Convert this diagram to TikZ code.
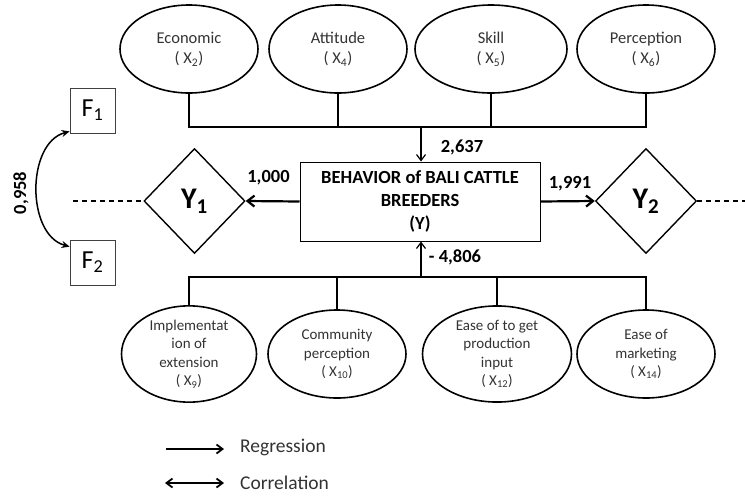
\documentclass[tikz,border=0pt]{standalone}
\usepackage{fontspec}
\setmainfont{Carlito}
\usetikzlibrary{arrows.meta, positioning, shapes.geometric}

\begin{document}
\begin{tikzpicture}[x=1pt, y=-1pt,
          factor/.style={ellipse, draw, line width=1.6pt, minimum width=138pt,
                         minimum height=88pt, inner sep=0pt, align=center,
                         text=black!80, font=\fontsize{16.5}{20.5}\selectfont},
          factorlow/.style={factor, font=\fontsize{15}{18.5}\selectfont},
          core/.style={rectangle, draw, line width=1pt, minimum width=240pt,
                       minimum height=79pt, align=center,
                       font=\fontsize{18.5}{23}\selectfont\bfseries},
          outcome/.style={diamond, draw, line width=1.4pt, minimum width=101pt,
                          minimum height=105pt, inner sep=0pt,
                          font=\fontsize{30}{30}\selectfont\bfseries},
          fbox/.style={rectangle, draw=black!75, line width=0.8pt, minimum size=45pt,
                       inner sep=0pt, font=\fontsize{26}{26}\selectfont},
          num/.style={inner sep=0pt, font=\fontsize{18.5}{22}\selectfont\bfseries},
          legtxt/.style={anchor=west, inner sep=0pt, text=black!80,
                         font=\fontsize{19.5}{22}\selectfont},
          link/.style={line width=1.2pt},
          arr/.style={-{Straight Barb[length=6pt, width=9pt]}, line width=1.2pt},
          thickarr/.style={-{Straight Barb[length=7pt, width=11pt]}, line width=2.2pt},
          twoarr/.style={{Straight Barb[length=6pt, width=9pt]}-{Straight Barb[length=6pt, width=9pt]},
                         line width=1.8pt},
          corr/.style={{Stealth[length=8pt, width=7pt]}-{Stealth[length=8pt, width=7pt]},
                       line width=1.5pt}]
          \useasboundingbox (0,0) rectangle (745,496);
          % upper factors
          \node[factor] (eco) at (189,49)  {Economic\\( X\textsubscript{2})};
          \node[factor] (att) at (338,49)  {Attitude\\( X\textsubscript{4})};
          \node[factor, minimum width=152pt] (ski) at (491,49) {Skill\\( X\textsubscript{5})};
          \node[factor] (per) at (646,49)  {Perception\\( X\textsubscript{6})};
          % lower factors
          \node[factorlow, minimum width=135pt] (ext) at (189,354) {Implementat\\ion of\\extension\\( X\textsubscript{9})};
          \node[factorlow] (com) at (337,354) {Community\\perception\\( X\textsubscript{10})};
          \node[factorlow, minimum width=149pt] (inp) at (497,354) {Ease of to get\\production\\input\\( X\textsubscript{12})};
          \node[factorlow] (mkt) at (646,354) {Ease of\\marketing\\( X\textsubscript{14})};
          % behaviour and outcomes
          \node[core] (beh) at (420,201.5) {BEHAVIOR of BALI CATTLE\\BREEDERS\\(Y)};
          \node[outcome] (y1) at (194.5,201) {Y\textsubscript{1}};
          \node[outcome] (y2) at (646,201)   {Y\textsubscript{2}};
          \node[fbox] (f1) at (92.5,110.5) {F\textsubscript{1}};
          \node[fbox] (f2) at (92.5,262.5) {F\textsubscript{2}};
          \coordinate (tj) at (421,127);
          \coordinate (bj) at (421,277);
          \coordinate (dl) at (73,201);
          \coordinate (dr) at (745,201);
          % upper tree
          \draw[link] (eco.south) -- (eco.south |- tj) -- (per.south |- tj) -- (per.south);
          \draw[link] (att.south) -- (att.south |- tj);
          \draw[link] (ski.south) -- (ski.south |- tj);
          \draw[arr] (tj) -- (tj |- beh.north);
          % lower tree
          \draw[link] (ext.north) -- (ext.north |- bj) -- (mkt.north |- bj) -- (mkt.north);
          \draw[link] (com.north) -- (com.north |- bj);
          \draw[link] (inp.north) -- (inp.north |- bj);
          \draw[arr] (bj) -- (bj |- beh.south);
          % outcomes
          \draw[thickarr] (beh.west) -- (y1.east);
          \draw[thickarr] (beh.east) -- (y2.west);
          \draw[link, dashed, dash pattern=on 5pt off 4pt] (dl) -- (y1.west);
          \draw[link, dashed, dash pattern=on 5pt off 4pt] (y2.east) -- (dr);
          \draw[corr] ([yshift=2pt]f1.south west) to[bend right=75] ([yshift=-7pt]f2.north west);
          % values
          \node[num] (v1) at (462,147) {2,637};
          \node[num] (v2) at (455,257) {- 4,806};
          \node[num] (v3) at (268.5,178) {1,000};
          \node[num] (v4) at (570,184) {1,991};
          \node[num, rotate=90] (v5) at (21,193) {0,958};
          % legend
          \coordinate (rg1) at (166,449);
          \coordinate (rg2) at (224,449);
          \coordinate (cr1) at (165,483);
          \coordinate (cr2) at (224,483);
          \draw[arr, line width=1.8pt] (rg1) -- (rg2);
          \draw[twoarr] (cr1) -- (cr2);
          \node[legtxt] (rgt) at (240,447) {Regression};
          \node[legtxt] (crt) at (240,483) {Correlation};
        \end{tikzpicture}
\end{document}
